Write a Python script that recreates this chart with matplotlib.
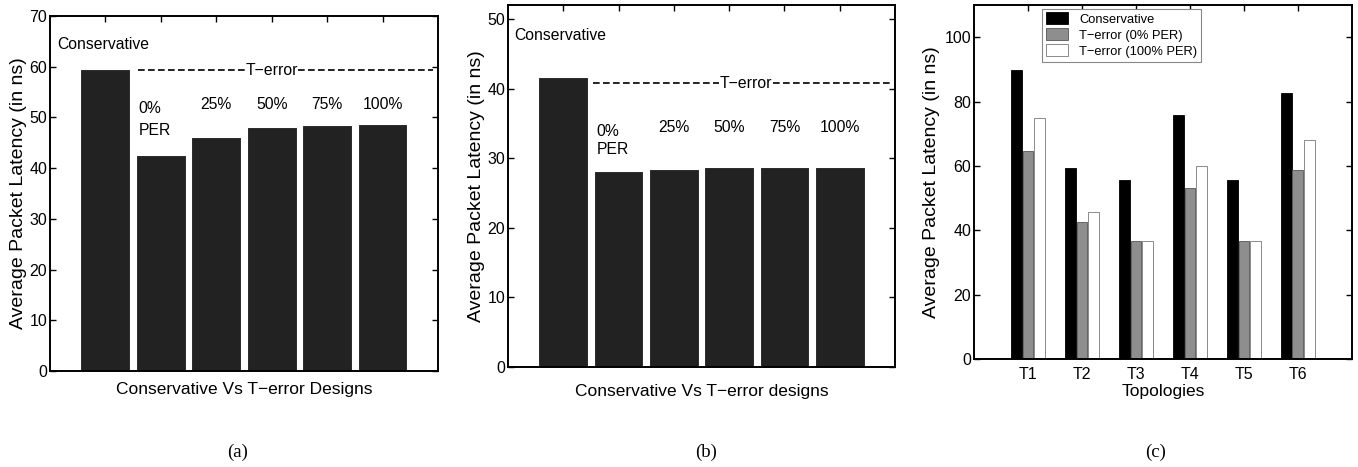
import matplotlib
matplotlib.use("Agg")
import matplotlib.pyplot as plt
import numpy as np

plt.rcParams['font.family'] = ['Liberation Sans', 'DejaVu Sans']

# ---- data ----
designs_a = ["Conservative", "0%", "25%", "50%", "75%", "100%"]
latency_a = [59.5, 42.6, 46.2, 48.1, 48.6, 48.8]
latency_b = [41.7, 28.2, 28.5, 28.7, 28.7, 28.7]
per_labels = ["0%", "25%", "50%", "75%", "100%"]

topologies = ["T1", "T2", "T3", "T4", "T5", "T6"]
conservative_c = [89.8, 59.5, 55.5, 75.7, 55.5, 82.5]
terror0_c = [64.6, 42.5, 36.6, 53.1, 36.6, 58.8]
terror100_c = [75.0, 45.8, 36.6, 60.0, 36.6, 67.9]
legend_labels = ["Conservative", "T\u2212error (0% PER)", "T\u2212error (100% PER)"]

fig = plt.figure(figsize=(13.58, 4.67), dpi=100)

TICK_FS = 11.5
TXT_FS = 11.3
XLAB_FS = 12.5
YLAB_FS = 14
BAR_COLOR = "#222222"


def style_axes(ax):
    for s in ax.spines.values():
        s.set_linewidth(1.4)
    ax.tick_params(direction="in", top=True, right=True, labelsize=TICK_FS,
                   length=4, width=1.0, pad=2)


def single_panel(ax, values, ymax, yticks, dash_y, dash_x0, dash_x1, terr_x,
                 cons_xy, pct_y, per_y, xlabel, xlabpad):
    x = np.arange(1, len(values) + 1)
    ax.bar(x, values, width=0.9, color=BAR_COLOR, edgecolor="white", linewidth=0.8, zorder=2)
    ax.set_xlim(0, 7)
    ax.set_ylim(0, ymax)
    ax.set_yticks(yticks)
    ax.set_xticks(x)
    ax.set_xticklabels([""] * len(x))
    style_axes(ax)
    ax.set_ylabel("Average Packet Latency (in ns)", fontsize=YLAB_FS, labelpad=2)
    ax.set_xlabel(xlabel, fontsize=XLAB_FS, labelpad=xlabpad)
    ax.plot([dash_x0, dash_x1], [dash_y, dash_y], color="black", linestyle=(0, (4, 2.0)),
            linewidth=1.2, zorder=3)
    ax.text(terr_x, dash_y, "T\u2212error", ha="center", va="center", fontsize=TXT_FS,
            bbox=dict(facecolor="white", edgecolor="none", pad=0.3), zorder=4)
    ax.text(cons_xy[0], cons_xy[1], "Conservative", ha="left", va="center", fontsize=TXT_FS)
    for i, lab in enumerate(per_labels):
        xi = x[i + 1]
        if i == 0:
            ax.text(xi - 0.4, pct_y - 0.012 * ymax, lab, ha="left", va="center", fontsize=TXT_FS)
            ax.text(xi - 0.4, per_y, "PER", ha="left", va="center", fontsize=TXT_FS)
        else:
            ax.text(xi, pct_y, lab, ha="center", va="center", fontsize=TXT_FS)


ax1 = fig.add_axes([0.0368, 0.2056, 0.2857, 0.760])
single_panel(ax1, latency_a, 70, np.arange(0, 71, 10), 59.3, 1.59, 6.91, 4.0,
             (0.13, 64.3), 52.6, 47.4, "Conservative Vs T\u2212error Designs", 6)

ax2 = fig.add_axes([0.3741, 0.2141, 0.2850, 0.775])
single_panel(ax2, latency_b, 52, np.arange(0, 51, 10), 40.8, 1.54, 6.91, 4.3,
             (0.11, 47.6), 34.4, 31.2, "Conservative Vs T\u2212error designs", 10)

ax3 = fig.add_axes([0.7172, 0.2313, 0.2783, 0.758])
xc = np.arange(1, len(topologies) + 1)
w = 0.2
off = 0.215
ax3.bar(xc - off, conservative_c, width=w, color="black", edgecolor="black", linewidth=0.6,
        label=legend_labels[0], zorder=2)
ax3.bar(xc, terror0_c, width=w, color="#8e8e8e", edgecolor="#555555", linewidth=0.6,
        label=legend_labels[1], zorder=2)
ax3.bar(xc + off, terror100_c, width=w, color="white", edgecolor="#777777", linewidth=0.6,
        label=legend_labels[2], zorder=2)
ax3.set_xlim(0, 7)
ax3.set_ylim(0, 110)
ax3.set_yticks(np.arange(0, 101, 20))
ax3.set_xticks(xc)
ax3.set_xticklabels(topologies)
style_axes(ax3)
ax3.tick_params(axis="x", pad=6)
ax3.set_ylabel("Average Packet Latency (in ns)", fontsize=YLAB_FS, labelpad=3)
ax3.set_xlabel("Topologies", fontsize=XLAB_FS, labelpad=1)
leg = ax3.legend(loc="upper left", bbox_to_anchor=(0.18, 0.99), fontsize=9.3,
                 frameon=True, fancybox=False, edgecolor="#888888", framealpha=1,
                 handlelength=1.7, handleheight=1.05, borderpad=0.3, labelspacing=0.2,
                 handletextpad=0.9, borderaxespad=0)
leg.get_frame().set_linewidth(0.8)

for lab, xpos in zip(["(a)", "(b)", "(c)"], [238, 706, 1156]):
    fig.text(xpos / 1358, 1 - 452 / 467, lab, ha="center", va="center",
             fontsize=13.5, family=["Liberation Serif", "DejaVu Serif"])

fig.savefig("out.png", dpi=100)
